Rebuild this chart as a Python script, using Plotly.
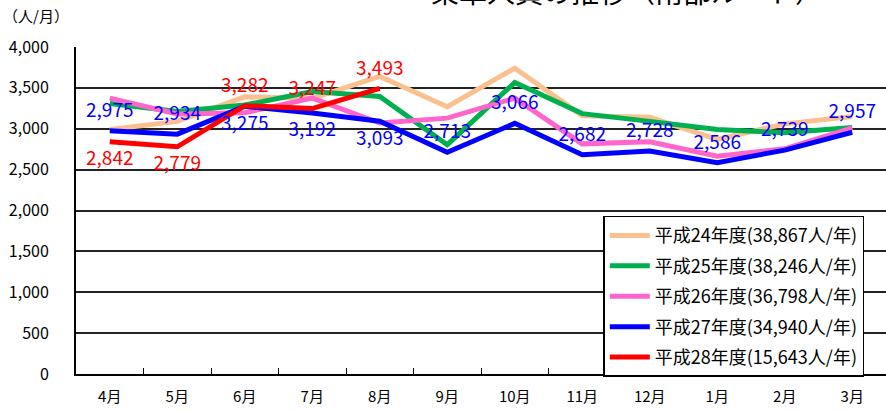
import plotly.graph_objects as go

months = ["4月", "5月", "6月", "7月", "8月", "9月", "10月", "11月", "12月", "1月", "2月", "3月"]
h24 = [2990, 3090, 3390, 3370, 3640, 3270, 3740, 3160, 3140, 2870, 3060, 3150]
h25 = [3310, 3210, 3290, 3455, 3395, 2805, 3565, 3185, 3090, 2990, 2950, 3015]
h26 = [3375, 3180, 3195, 3375, 3070, 3130, 3375, 2815, 2840, 2665, 2755, 3010]
h27 = [2975, 2934, 3275, 3192, 3093, 2713, 3066, 2682, 2728, 2586, 2739, 2957]
h28 = [2842, 2779, 3282, 3247, 3493]
names = ["平成24年度(38,867人/年)", "平成25年度(38,246人/年)", "平成26年度(36,798人/年)",
         "平成27年度(34,940人/年)", "平成28年度(15,643人/年)"]
colors = ["#FAC090", "#00B050", "#FF66CC", "#0000FF", "#FF0000"]
h27_pos = ["top center", "top center", "bottom center", "bottom center", "bottom center",
           "top center", "top center", "top center", "top center", "top center", "top center", "top center"]
h28_pos = ["bottom center", "bottom center", "top center", "top center", "top center"]

FONT = "Noto Sans CJK JP"
fig = go.Figure()
series = [h24, h25, h26, h27, h28]
for i, (vals, nm, col) in enumerate(zip(series, names, colors)):
    fig.add_trace(go.Scatter(x=months[:len(vals)], y=vals, name=nm, mode="lines", legendgroup=str(i),
                             line=dict(color=col, width=5), cliponaxis=False))
for vals, pos, col in [(h27, h27_pos, colors[3]), (h28, h28_pos, colors[4])]:
    fig.add_trace(go.Scatter(x=months[:len(vals)], y=vals, mode="markers+text", showlegend=False,
                             text=[f"{v:,}" for v in vals], textposition=pos,
                             marker=dict(size=13, opacity=0, color=col), hoverinfo="skip",
                             textfont=dict(color=col, size=19, family=FONT), cliponaxis=False))

fig.update_layout(
    width=886, height=412,
    margin=dict(l=76, r=0, t=47, b=38, autoexpand=False),
    paper_bgcolor="white", plot_bgcolor="white",
    font=dict(family=FONT, color="black"),
    showlegend=True,
    legend=dict(x=0.651, y=0.484, xanchor="left", yanchor="top",
                bgcolor="white", bordercolor="black", borderwidth=1.5,
                font=dict(size=18, family=FONT), tracegroupgap=4, itemwidth=40),
    annotations=[
        dict(text="乗車人員の推移（南部ルート）", xref="paper", yref="paper", x=0.68, y=1.17,
             xanchor="center", yanchor="middle", showarrow=False, font=dict(size=28, family=FONT)),
        dict(text="（人/月）", xref="paper", yref="paper", x=-0.05, y=1.095,
             xanchor="center", yanchor="middle", showarrow=False, font=dict(size=15, family=FONT)),
    ],
)
fig.update_xaxes(type="category", categoryorder="array", categoryarray=months,
                 showline=True, linecolor="black", linewidth=2, automargin=False,
                 ticks="inside", tickson="boundaries", ticklen=6, tickcolor="black", tickwidth=1,
                 ticklabelstandoff=8,
                 tickfont=dict(size=15, family=FONT), showgrid=False, range=[-0.5, 11.5])
fig.update_yaxes(range=[0, 4000], dtick=500, tickformat=",", automargin=False,
                 showline=True, linecolor="black", linewidth=2,
                 showgrid=True, gridcolor="#222", gridwidth=1.5,
                 ticks="", ticklabelstandoff=22, tickfont=dict(size=16, family=FONT),
                 zeroline=False)
fig.write_html("out.html", post_script="document.body.style.margin='0px';",
               config={"displayModeBar": False})
